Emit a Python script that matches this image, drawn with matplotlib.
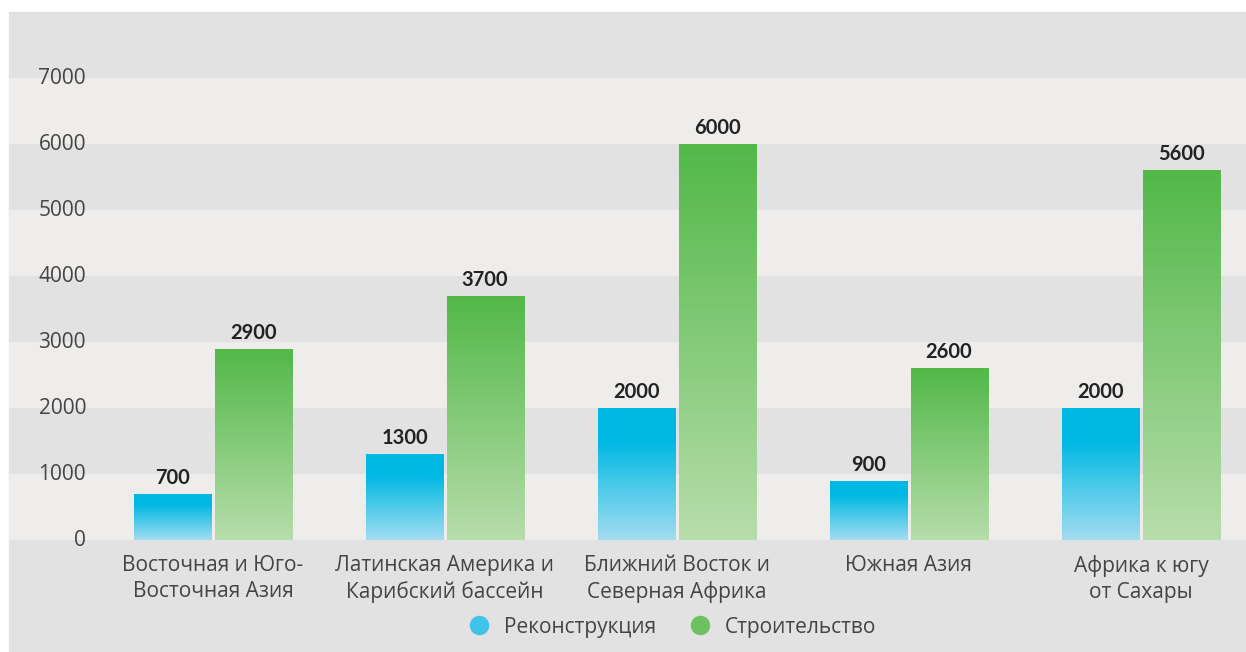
import numpy as np
import matplotlib.pyplot as plt
from matplotlib.colors import LinearSegmentedColormap
from matplotlib.lines import Line2D

plt.rcParams['font.family'] = ['Open Sans', 'DejaVu Sans']

categories = ['Восточная и Юго-\nВосточная Азия', 'Латинская Америка и\nКарибский бассейн',
              'Ближний Восток и\nСеверная Африка', 'Южная Азия', 'Африка к югу\nот Сахары']
reconstruction = [700, 1300, 2000, 900, 2000]
construction = [2900, 3700, 6000, 2600, 5600]
series_names = ['Реконструкция', 'Строительство']
yticks = [0, 1000, 2000, 3000, 4000, 5000, 6000, 7000]

W, H = 1246, 652
fig = plt.figure(figsize=(W / 100, H / 100), dpi=100, facecolor='white')
# gray panel behind everything
fig.patches.append(plt.Rectangle((9 / W, 0), 1 - 9 / W, (H - 12) / H,
                                 transform=fig.transFigure, color='#e2e2e2', zorder=-5))
ax = fig.add_axes([9 / W, (H - 540) / H, 1 - 9 / W, 528 / H])
ax.set_facecolor('none')

x = np.arange(len(categories))
w = 0.332
gap = 0.007

# alternating bands
for i in range(8):
    ax.axhspan(i * 1000, (i + 1) * 1000, color='#eeedeb' if i % 2 == 0 else '#e2e2e2',
               zorder=0, lw=0)

blue_cmap = LinearSegmentedColormap.from_list('b', [(0, '#a3ddf1'), (0.75, '#00b9e3'), (1, '#00b9e3')])
green_cmap = LinearSegmentedColormap.from_list('g', ['#b7ddab', '#52b848'])
grad = np.linspace(0, 1, 256).reshape(-1, 1)

b1 = ax.bar(x - w / 2 - gap, reconstruction, w, color='none', zorder=2)
b2 = ax.bar(x + w / 2 + gap, construction, w, color='none', zorder=2)
for bars, cmap in [(b1, blue_cmap), (b2, green_cmap)]:
    for p in bars:
        x0, y0 = p.get_x(), p.get_y()
        im = ax.imshow(grad, cmap=cmap, origin='lower', aspect='auto', zorder=2,
                       extent=[x0, x0 + p.get_width(), y0, y0 + p.get_height()])
        im.set_clip_path(p)
        ax.text(x0 + p.get_width() / 2, p.get_height() + 90, str(int(p.get_height())),
                ha='center', va='bottom', fontsize=14.5, fontweight='bold', color='#222222',
                family=['Lato', 'DejaVu Sans'])

ax.set_xlim(-0.879, 4.453)
ax.set_ylim(0, 8000)

for t in yticks:
    ax.text(-0.547, t, f'{t}', ha='right', va='center', fontsize=15, color='#444444')

for xi, c in zip(x, categories):
    ax.text(xi, -220, c, ha='center', va='top', fontsize=15, color='#444444',
            linespacing=1.35, clip_on=False)

ax.set_xticks([])
ax.set_yticks([])
for s in ax.spines.values():
    s.set_visible(False)

handles = [Line2D([], [], marker='o', ls='none', markersize=13, color='#3fc3ea'),
           Line2D([], [], marker='o', ls='none', markersize=13, color='#6cc25f')]
fig.legend(handles, series_names, loc='center', bbox_to_anchor=(667 / W, 25 / H),
           frameon=False, ncol=2, handletextpad=0.2, columnspacing=1.1,
           labelcolor='#444444', prop={'size': 15})

fig.savefig('out.png', dpi=100, facecolor='white')
